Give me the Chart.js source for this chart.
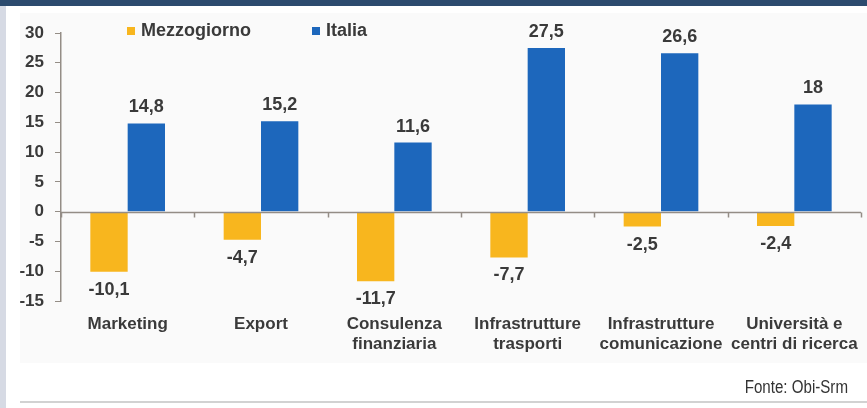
<!DOCTYPE html>
<html>
<head>
<meta charset="utf-8">
<script src="https://cdn.jsdelivr.net/npm/chart.js@4/dist/chart.umd.min.js"></script>
<style>
  html, body { margin: 0; padding: 0; background: #fff; }
  #wrap { width: 867px; height: 408px; position: relative; }
</style>
</head>
<body>
<div id="wrap"><canvas id="barChart" width="867" height="408"></canvas></div>
<script>
const categories = [
  ['Marketing'],
  ['Export'],
  ['Consulenza', 'finanziaria'],
  ['Infrastrutture', 'trasporti'],
  ['Infrastrutture', 'comunicazione'],
  ['Università e', 'centri di ricerca']
];
const mezzogiorno = [-10.1, -4.7, -11.7, -7.7, -2.5, -2.4];
const italia = [14.8, 15.2, 11.6, 27.5, 26.6, 18];
const yMin = -15;
const yMax = 30;
const yStep = 5;

const seriesNames = ['Mezzogiorno', 'Italia'];
const seriesColors = ['#f8b61e', '#1d67bc'];
const textColor = '#3a3a3a';
const axisColor = '#948d86';
const fontFamily = '"Liberation Sans", Arial, sans-serif';

Chart.defaults.font.family = fontFamily;
Chart.defaults.font.weight = 'bold';

function fmt(v) {
  return String(v).replace('.', ',');
}

// page furniture: header band, side stripe, panel, footer rule, source note
const backdrop = {
  id: 'backdrop',
  beforeDraw(chart) {
    const ctx = chart.ctx;
    ctx.save();
    ctx.fillStyle = '#ffffff';
    ctx.fillRect(0, 0, chart.width, chart.height);
    ctx.fillStyle = '#fafafa';
    ctx.fillRect(20, 13, chart.width - 20, 350);
    ctx.fillStyle = '#2c4b6e';
    ctx.fillRect(0, 0, chart.width, 6);
    ctx.fillStyle = '#d6dae4';
    ctx.fillRect(0, 6, 6, chart.height - 6);
    ctx.fillStyle = '#d2d2d2';
    ctx.fillRect(20, 401, chart.width - 20, 2);
    ctx.restore();
  },
  afterDraw(chart) {
    // condensed source note, squeezed horizontally
    const ctx = chart.ctx;
    ctx.save();
    ctx.fillStyle = '#333';
    ctx.font = '18px "Liberation Sans", sans-serif';
    ctx.textAlign = 'right';
    ctx.textBaseline = 'middle';
    ctx.translate(848, 388);
    ctx.scale(0.84, 1);
    ctx.fillText('Fonte: Obi-Srm', 0, 0);
    ctx.restore();
  }
};

// horizontal line at zero with small marks between categories
const zeroAxis = {
  id: 'zeroAxis',
  afterDatasetsDraw(chart) {
    const ctx = chart.ctx;
    const x = chart.scales.x;
    const y0 = Math.round(chart.scales.y.getPixelForValue(0)) + 0.5;
    ctx.save();
    ctx.strokeStyle = axisColor;
    ctx.lineWidth = 1.5;
    ctx.beginPath();
    ctx.moveTo(chart.chartArea.left, y0);
    ctx.lineTo(chart.chartArea.right, y0);
    for (let i = 0; i <= categories.length; i++) {
      const px = Math.round(x.getPixelForValue(i - 0.5)) + 0.5;
      ctx.moveTo(px, y0);
      ctx.lineTo(px, y0 + 5);
    }
    ctx.stroke();
    ctx.restore();
  }
};

// value labels above positive bars, below negative ones
const valueLabels = {
  id: 'valueLabels',
  afterDatasetsDraw(chart) {
    const ctx = chart.ctx;
    ctx.save();
    ctx.fillStyle = textColor;
    ctx.font = 'bold 18px ' + fontFamily;
    ctx.textAlign = 'center';
    chart.data.datasets.forEach((ds, di) => {
      chart.getDatasetMeta(di).data.forEach((bar, i) => {
        const v = ds.data[i];
        if (v >= 0) {
          ctx.textBaseline = 'bottom';
          ctx.fillText(fmt(v), bar.x, bar.y - 7);
        } else {
          ctx.textBaseline = 'top';
          ctx.fillText(fmt(v), bar.x, bar.y + 9);
        }
      });
    });
    ctx.restore();
  }
};

// legend drawn inside the plot, top left
const topLegend = {
  id: 'topLegend',
  afterDraw(chart) {
    const ctx = chart.ctx;
    const left = chart.chartArea.left;
    const y = chart.chartArea.top - 2;
    const offsets = [66, 251];
    ctx.save();
    ctx.font = 'bold 18px ' + fontFamily;
    ctx.textBaseline = 'middle';
    ctx.textAlign = 'left';
    seriesNames.forEach((name, i) => {
      const x = left + offsets[i];
      ctx.fillStyle = seriesColors[i];
      ctx.fillRect(x, y - 4, 8, 8);
      ctx.fillStyle = textColor;
      ctx.fillText(name, x + 14, y);
    });
    ctx.restore();
  }
};

const ctx = document.getElementById('barChart').getContext('2d');
const barChart = new Chart(ctx, {
  type: 'bar',
  data: {
    labels: categories,
    datasets: [
      {
        label: seriesNames[0],
        data: mezzogiorno,
        backgroundColor: seriesColors[0],
        categoryPercentage: 0.56,
        barPercentage: 1.0
      },
      {
        label: seriesNames[1],
        data: italia,
        backgroundColor: seriesColors[1],
        categoryPercentage: 0.56,
        barPercentage: 1.0
      }
    ]
  },
  options: {
    responsive: false,
    animation: false,
    layout: { padding: { left: 0, top: 33, right: 6, bottom: 0 } },
    plugins: {
      legend: { display: false },
      tooltip: { enabled: false }
    },
    scales: {
      x: {
        grid: { display: false },
        border: { display: false },
        ticks: {
          color: textColor,
          font: { size: 17, lineHeight: 1.18 },
          padding: 5,
          maxRotation: 0,
          autoSkip: false
        },
        afterFit(scale) { scale.height = 107; }
      },
      y: {
        min: yMin,
        max: yMax,
        ticks: {
          stepSize: yStep,
          color: textColor,
          font: { size: 17 },
          padding: 11
        },
        grid: {
          drawOnChartArea: false,
          drawTicks: true,
          tickLength: 6,
          color: axisColor
        },
        border: { display: true, color: axisColor, width: 1.5 },
        afterFit(scale) { scale.width = 61; }
      }
    }
  },
  plugins: [backdrop, zeroAxis, valueLabels, topLegend]
});
</script>
</body>
</html>
